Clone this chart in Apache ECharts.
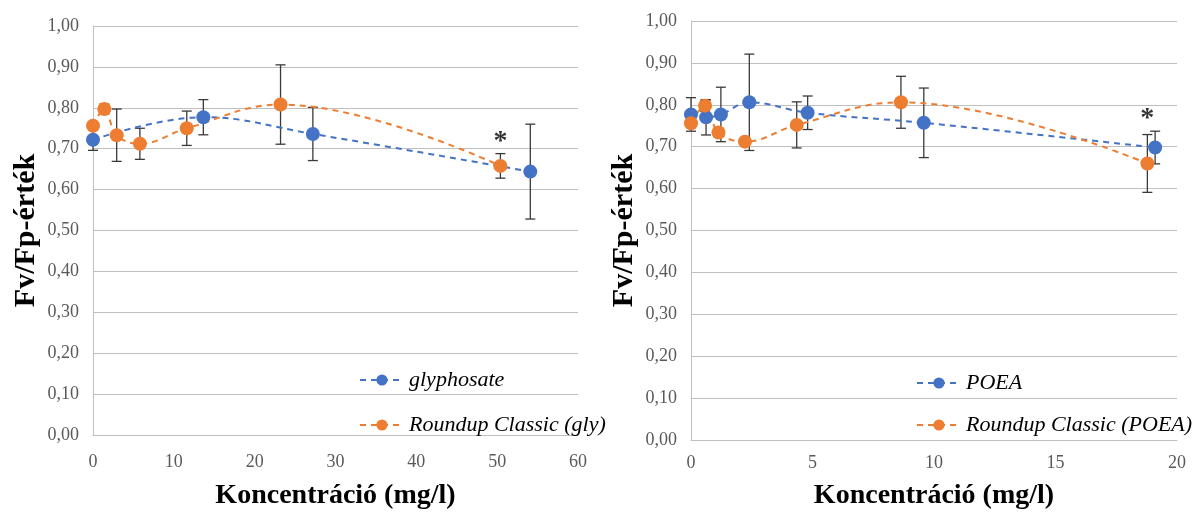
<!DOCTYPE html>
<html>
<head>
<meta charset="utf-8">
<script src="https://cdn.jsdelivr.net/npm/echarts@6/dist/echarts.min.js"></script>
<style>
  html, body { margin: 0; padding: 0; background: #fff; }
  #chart { width: 1200px; height: 515px; }
</style>
</head>
<body>
<div id="chart"></div>
<script>
// bal oldali diagram: glyphosate
const glyX = [0, 13.65, 27.2, 54.1]
const glyY = [0.722, 0.777, 0.736, 0.644]
const glyErr = [0.026, 0.043, 0.065, 0.116]

const rcGlyX = [0, 1.4, 2.93, 5.8, 11.6, 23.2, 50.4]
const rcGlyY = [0.756, 0.797, 0.733, 0.712, 0.750, 0.808, 0.658]
const rcGlyErr = [0, 0.012, 0.064, 0.038, 0.042, 0.097, 0.030]

// jobb oldali diagram: POEA
const poeaX = [0, 0.62, 1.23, 2.4, 4.8, 9.58, 19.1]
const poeaY = [0.777, 0.770, 0.777, 0.806, 0.781, 0.757, 0.698]
const poeaErr = [0.04, 0.042, 0.065, 0.115, 0.04, 0.083, 0.039]

const rcPoeaX = [0, 0.58, 1.13, 2.22, 4.35, 8.64, 18.78]
const rcPoeaY = [0.756, 0.798, 0.734, 0.712, 0.752, 0.806, 0.660]
const rcPoeaErr = [0, 0.013, 0.01, 0.01, 0.055, 0.062, 0.069]

// szignifikáns pontok indexe (csillag)
const starLeft = 6
const starRight = 6

const yTicks = [0, 1, 0.1]
const xTicksLeft = [0, 60, 10]
const xTicksRight = [0, 20, 5]

const BLUE = '#4472C4'
const ORANGE = '#ED7D31'
const serif = '"Liberation Serif", "DejaVu Serif", serif'

const pairs = (xs, ys) => xs.map((x, i) => [x, ys[i]])
const errData = (xs, ys, es) => xs.map((x, i) => [x, ys[i] - es[i], ys[i] + es[i]])

const errorBars = (xs, ys, es, axis) => ({
  type: 'custom',
  xAxisIndex: axis,
  yAxisIndex: axis,
  z: 1,
  silent: true,
  data: errData(xs, ys, es),
  renderItem: (params, api) => {
    if (api.value(2) - api.value(1) <= 0) return
    const lo = api.coord([api.value(0), api.value(1)])
    const hi = api.coord([api.value(0), api.value(2)])
    const cap = 5
    const style = { stroke: '#3a3a3a', lineWidth: 1.3 }
    return {
      type: 'group',
      children: [
        { type: 'line', shape: { x1: lo[0], y1: lo[1], x2: hi[0], y2: hi[1] }, style },
        { type: 'line', shape: { x1: lo[0] - cap, y1: lo[1], x2: lo[0] + cap, y2: lo[1] }, style },
        { type: 'line', shape: { x1: hi[0] - cap, y1: hi[1], x2: hi[0] + cap, y2: hi[1] }, style }
      ]
    }
  }
})

const lineSeries = (name, xs, ys, color, axis) => ({
  name,
  type: 'line',
  xAxisIndex: axis,
  yAxisIndex: axis,
  z: 3,
  smooth: 0.4,
  symbol: 'circle',
  symbolSize: 14,
  data: pairs(xs, ys),
  itemStyle: { color },
  lineStyle: { color, width: 2, type: [6, 5] }
})

const starSeries = (x, y, axis, dist) => ({
  type: 'scatter',
  xAxisIndex: axis,
  yAxisIndex: axis,
  symbolSize: 0,
  silent: true,
  data: [[x, y]],
  label: {
    show: true,
    position: 'top',
    distance: dist,
    formatter: '*',
    fontFamily: serif,
    fontWeight: 'bold',
    fontSize: 28,
    color: '#000'
  }
})

const yAxisDef = (idx) => ({
  type: 'value',
  gridIndex: idx,
  min: yTicks[0],
  max: yTicks[1],
  interval: yTicks[2],
  name: 'Fv/Fp-érték',
  nameLocation: 'middle',
  nameGap: 52,
  nameTextStyle: { fontFamily: serif, fontWeight: 'bold', fontSize: 30, color: '#000' },
  axisLine: { show: true, lineStyle: { color: '#bfbfbf' } },
  axisTick: { show: false },
  axisLabel: {
    fontFamily: serif, fontSize: 18, color: '#595959', margin: 14,
    formatter: v => v.toFixed(2).replace('.', ',')
  },
  splitLine: { lineStyle: { color: '#bfbfbf' } }
})

const xAxisDef = (idx, t, gap, margin) => ({
  type: 'value',
  gridIndex: idx,
  min: t[0],
  max: t[1],
  interval: t[2],
  name: 'Koncentráció (mg/l)',
  nameLocation: 'middle',
  nameGap: gap,
  nameTextStyle: { fontFamily: serif, fontWeight: 'bold', fontSize: 28, color: '#000' },
  axisLine: { show: true, lineStyle: { color: '#bfbfbf' } },
  axisTick: { show: false },
  axisLabel: { fontFamily: serif, fontSize: 18, color: '#595959', margin },
  splitLine: { show: false }
})

const legendDef = (names, left, top, gap) => ({
  data: names,
  orient: 'vertical',
  left,
  top,
  itemGap: gap,
  itemWidth: 44,
  itemHeight: 14,
  textStyle: { fontFamily: serif, fontStyle: 'italic', fontSize: 22, color: '#000' }
})

const chart = echarts.init(document.getElementById('chart'), null, { renderer: 'canvas' })

const option = {
  animation: false,
  backgroundColor: '#fff',
  grid: [
    { left: 93, right: 622, top: 26, bottom: 74 },
    { left: 691, right: 23, top: 21, bottom: 75 }
  ],
  xAxis: [xAxisDef(0, xTicksLeft, 47, 18), xAxisDef(1, xTicksRight, 42, 14)],
  yAxis: [yAxisDef(0), yAxisDef(1)],
  legend: [
    legendDef(['glyphosate', 'Roundup Classic (gly)'], 354, 364, 23),
    legendDef(['POEA', 'Roundup Classic (POEA)'], 911, 367, 20)
  ],
  series: [
    errorBars(glyX, glyY, glyErr, 0),
    errorBars(rcGlyX, rcGlyY, rcGlyErr, 0),
    lineSeries('glyphosate', glyX, glyY, BLUE, 0),
    lineSeries('Roundup Classic (gly)', rcGlyX, rcGlyY, ORANGE, 0),
    starSeries(rcGlyX[starLeft], rcGlyY[starLeft] + rcGlyErr[starLeft], 0, -2),
    errorBars(poeaX, poeaY, poeaErr, 1),
    errorBars(rcPoeaX, rcPoeaY, rcPoeaErr, 1),
    lineSeries('POEA', poeaX, poeaY, BLUE, 1),
    lineSeries('Roundup Classic (POEA)', rcPoeaX, rcPoeaY, ORANGE, 1),
    starSeries(rcPoeaX[starRight], rcPoeaY[starRight] + rcPoeaErr[starRight], 1, 2)
  ]
}

chart.setOption(option)
</script>
</body>
</html>
